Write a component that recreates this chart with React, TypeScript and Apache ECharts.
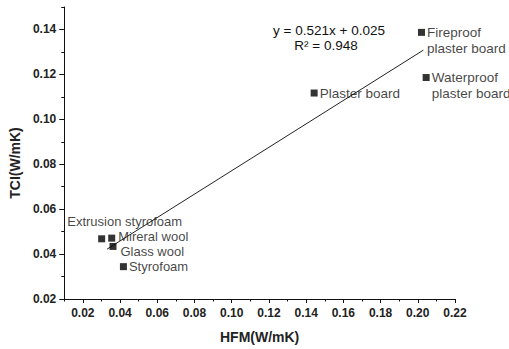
import React, { useEffect, useRef } from "react";
import * as echarts from "echarts";

const pointNames = [
  "Fireproof\nplaster board",
  "Waterproof\nplaster board",
  "Plaster board",
  "Extrusion styrofoam",
  "Mireral wool",
  "Glass wool",
  "Styrofoam",
];
const hfmValues = [0.202, 0.2045, 0.1443, 0.0301, 0.0355, 0.0362, 0.0418];
const tciValues = [0.1387, 0.1186, 0.1117, 0.0468, 0.0471, 0.0434, 0.0344];

const fitX = [0.033, 0.203];
const fitY = [0.0422, 0.1308];

const xMajorTicks = [0.02, 0.04, 0.06, 0.08, 0.1, 0.12, 0.14, 0.16, 0.18, 0.2, 0.22];
const xMinorTicks = [0.01, 0.03, 0.05, 0.07, 0.09, 0.11, 0.13, 0.15, 0.17, 0.19, 0.21];
const yMajorTicks = [0.02, 0.04, 0.06, 0.08, 0.1, 0.12, 0.14];
const yMinorTicks = [0.03, 0.05, 0.07, 0.09, 0.11, 0.13, 0.15];

const equationLines = ["y = 0.521x + 0.025", "R² = 0.948"];

const FONT = "'Liberation Sans', Arial, sans-serif";

// label placement per point
const labelPlacement: any[] = [
  { position: "right", distance: 2, offset: [0, 8], lineHeight: 16, fontSize: 13.5 },
  { position: "right", distance: 2, offset: [0, 8], lineHeight: 16, fontSize: 13.5 },
  { position: "right", distance: 2, offset: [0, 0], lineHeight: 16, fontSize: 13.5 },
  { position: "top", distance: 5, offset: [23, -2.5], lineHeight: 13, fontSize: 13 },
  { position: "right", distance: 3, offset: [0, -2], lineHeight: 13, fontSize: 13 },
  { position: "right", distance: 4, offset: [0, 5], lineHeight: 13, fontSize: 13 },
  { position: "right", distance: 2, offset: [0, 0], lineHeight: 13, fontSize: 13 },
];

export default function App() {
  const ref = useRef<HTMLDivElement>(null);
  useEffect(() => {
    if (!ref.current) return;
    const chart = echarts.init(ref.current, undefined, { renderer: "svg" });
    const fmt = (v: number) => v.toFixed(2);
    const axisLabelStyle = {
      fontFamily: FONT,
      fontSize: 12,
      fontWeight: "bold" as const,
      color: "#222",
    };
    chart.setOption({
      animation: false,
      backgroundColor: "#fff",
      grid: { left: 62, right: 54, top: 7, bottom: 48, containLabel: false },
      xAxis: [
        {
          type: "value",
          min: 0.01,
          max: 0.22,
          position: "bottom",
          name: "HFM(W/mK)",
          nameLocation: "middle",
          nameGap: 31,
          nameTextStyle: { fontFamily: FONT, fontSize: 14, fontWeight: "bold", color: "#222" },
          axisLine: { show: true, lineStyle: { color: "#111", width: 1 } },
          axisTick: { show: true, length: 4, inside: false, customValues: xMajorTicks, lineStyle: { color: "#111" } },
          axisLabel: { show: true, margin: 8, customValues: xMajorTicks, formatter: fmt, ...axisLabelStyle },
          splitLine: { show: false },
        },
        {
          type: "value",
          min: 0.01,
          max: 0.22,
          position: "bottom",
          axisLine: { show: false },
          axisTick: { show: true, length: 2.5, inside: false, customValues: xMinorTicks, lineStyle: { color: "#111" } },
          axisLabel: { show: false },
          splitLine: { show: false },
        },
      ],
      yAxis: [
        {
          type: "value",
          min: 0.02,
          max: 0.15,
          position: "left",
          name: "TCI(W/mK)",
          nameLocation: "middle",
          nameGap: 40,
          nameTextStyle: {
            fontFamily: FONT,
            fontSize: 14,
            fontWeight: "bold",
            color: "#222",
            padding: [0, 20, 0, 0],
          },
          axisLine: { show: true, lineStyle: { color: "#111", width: 1 } },
          axisTick: { show: true, length: 5, inside: false, customValues: yMajorTicks, lineStyle: { color: "#111" } },
          axisLabel: { show: true, margin: 8, customValues: yMajorTicks, formatter: fmt, ...axisLabelStyle },
          splitLine: { show: false },
        },
        {
          type: "value",
          min: 0.02,
          max: 0.15,
          position: "left",
          axisLine: { show: false },
          axisTick: { show: true, length: 3, inside: false, customValues: yMinorTicks, lineStyle: { color: "#111" } },
          axisLabel: { show: false },
          splitLine: { show: false },
        },
      ],
      series: [
        {
          type: "line",
          xAxisIndex: 0,
          yAxisIndex: 0,
          data: fitX.map((x, i) => [x, fitY[i]]),
          showSymbol: false,
          symbol: "none",
          lineStyle: { color: "#222", width: 1 },
          silent: true,
          z: 1,
        },
        {
          type: "scatter",
          xAxisIndex: 0,
          yAxisIndex: 0,
          symbol: "rect",
          symbolSize: 7,
          itemStyle: { color: "#000" },
          z: 2,
          data: pointNames.map((name, i) => ({
            name,
            value: [hfmValues[i], tciValues[i]],
            label: {
              show: true,
              formatter: "{b}",
              fontFamily: FONT,
              color: "#111",
              align: labelPlacement[i].position === "top" ? "center" : "left",
              ...labelPlacement[i],
            },
          })),
        },
      ],
      graphic: [
        {
          type: "text",
          x: 329,
          y: 30,
          style: {
            text: equationLines[0],
            align: "center",
            verticalAlign: "middle",
            font: `13.5px ${FONT}`,
            fill: "#111",
          },
        },
        {
          type: "text",
          x: 326,
          y: 45,
          style: {
            text: equationLines[1],
            align: "center",
            verticalAlign: "middle",
            font: `13.5px ${FONT}`,
            fill: "#111",
          },
        },
      ],
    });
    return () => chart.dispose();
  }, []);
  return (
    <div
      ref={ref}
      style={{ position: "absolute", left: 0, top: 0, width: 509, height: 349 }}
    />
  );
}
